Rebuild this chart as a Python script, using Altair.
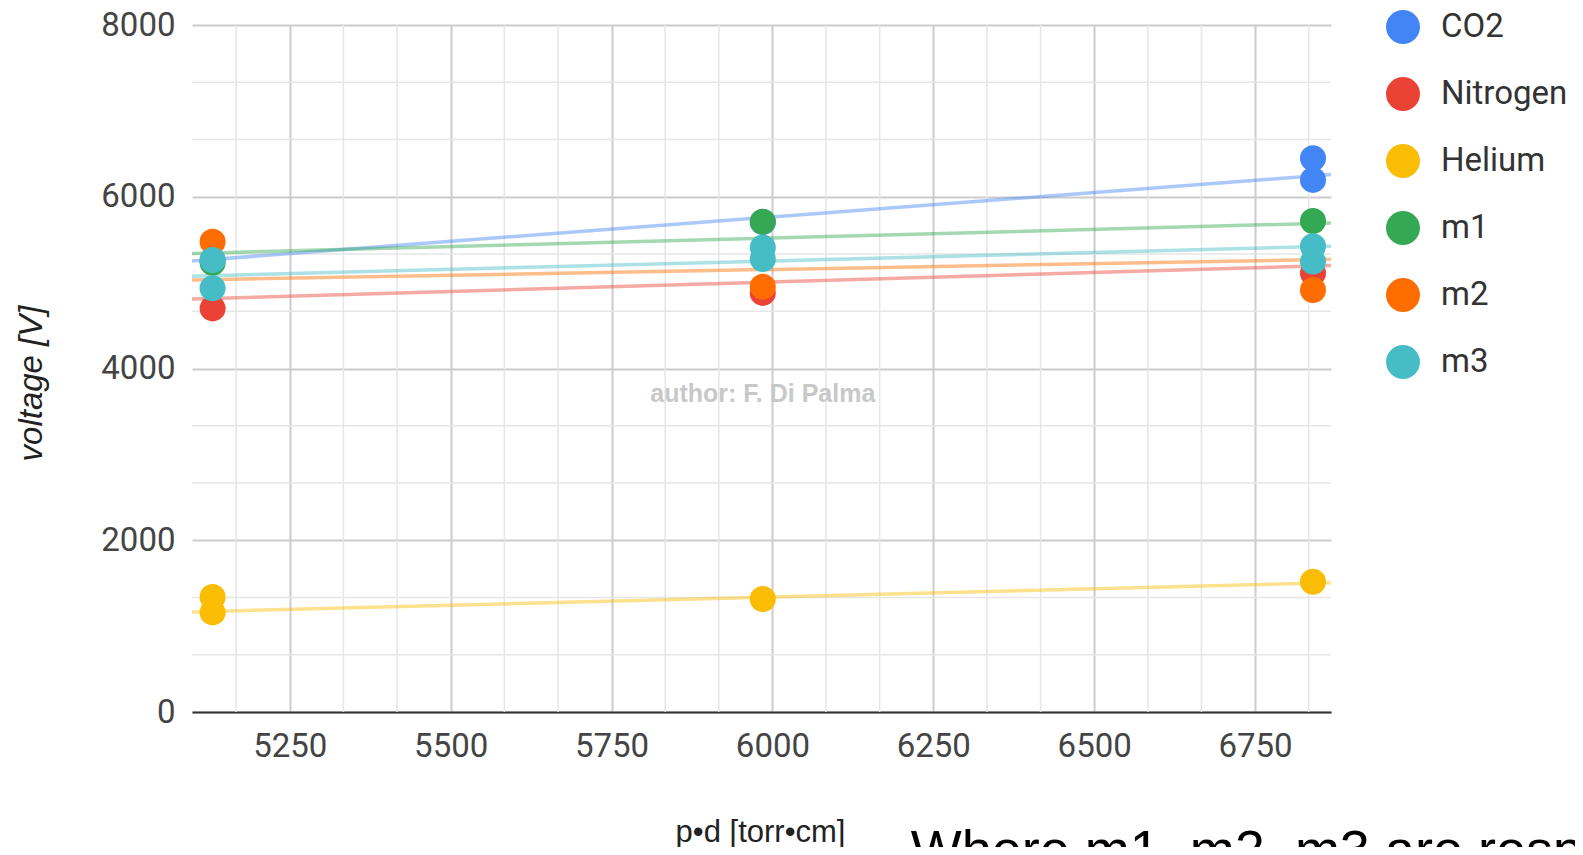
import altair as alt
import pandas as pd

# ---------------- data ----------------
series = ["CO2", "Nitrogen", "Helium", "m1", "m2", "m3"]
colors = ["#4285F4", "#EA4335", "#FBBC04", "#34A853", "#FF6D01", "#46BDC6"]

co2_x = [5130, 5985, 6840, 6840]
co2_v = [5260, 5705, 6449, 6196]
n2_x = [5130, 5985, 6840]
n2_v = [4700, 4880, 5109]
he_x = [5130, 5130, 5985, 6840]
he_v = [1340, 1160, 1316, 1516]
m1_x = [5130, 5985, 6840]
m1_v = [5230, 5710, 5718]
m2_x = [5130, 5985, 6840]
m2_v = [5477, 4953, 4914]
m3_x = [5130, 5130, 5985, 5985, 6840, 6840]
m3_v = [5264, 4934, 5410, 5275, 5424, 5245]

# trendline values read at the left and right edges of the plot
trend_x = [5098, 6868]
trend_start = [5252, 4809, 1165, 5340, 5031, 5075]
trend_end = [6259, 5200, 1506, 5694, 5271, 5424]

# axis ticks / gridlines
x_domain = [5098, 6868]
y_domain = [0, 8000]
x_major = [5250, 5500, 5750, 6000, 6250, 6500, 6750]
x_minor = [5166.67, 5333.33, 5416.67, 5583.33, 5666.67, 5833.33, 5916.67,
           6083.33, 6166.67, 6333.33, 6416.67, 6583.33, 6666.67, 6833.33]
y_major = [0, 2000, 4000, 6000, 8000]
y_minor = [666.67, 1333.33, 2666.67, 3333.33, 4666.67, 5333.33, 6666.67, 7333.33]

# annotations (data coordinates)
watermark_text = ["author: F. Di Palma"]
watermark_x = [5985]
watermark_v = [3613]
note_text = ["Where m1, m2, m3 are respectively"]
note_x = [6215]
note_v = [-1816]

# ---------------- tables ----------------
pts_rows = []
for name, xs_, vs_ in zip(series, [co2_x, n2_x, he_x, m1_x, m2_x, m3_x],
                          [co2_v, n2_v, he_v, m1_v, m2_v, m3_v]):
    for a, b in zip(xs_, vs_):
        pts_rows.append({"series": name, "x": a, "v": b})
pts = pd.DataFrame(pts_rows)

trend_rows = []
for name, col, s, e in zip(series, colors, trend_start, trend_end):
    trend_rows.append({"series": name, "col": col, "x": trend_x[0], "v": s})
    trend_rows.append({"series": name, "col": col, "x": trend_x[1], "v": e})
trend = pd.DataFrame(trend_rows)

xminor_df = pd.DataFrame({"x": x_minor})
yminor_df = pd.DataFrame({"v": y_minor})
wm_df = pd.DataFrame({"x": watermark_x, "v": watermark_v, "t": watermark_text})
note_df = pd.DataFrame({"x": note_x, "v": note_v, "t": note_text})

# ---------------- encodings ----------------
xs = alt.Scale(domain=x_domain, nice=False, zero=False)
ys = alt.Scale(domain=y_domain, nice=False, zero=False)

x_axis = alt.Axis(
    values=x_major, format="d", grid=True, gridColor="#cccccc", gridWidth=2,
    domain=True, domainColor="#333333", domainWidth=2,
    ticks=False, tickSize=0,
    labelFont="Roboto", labelFontSize=33, labelColor="#444444",
    labelBaseline="middle", labelPadding=34, labelFlush=False,
    title="p•d [torr•cm]", titleFont="Liberation Sans", titleFontSize=31,
    titleFontWeight="normal", titleColor="#222222",
    titleX=568, titleY=120, titleAlign="center", titleBaseline="middle",
)
y_axis = alt.Axis(
    values=y_major, format="d", grid=True, gridColor="#cccccc", gridWidth=2,
    domain=False, ticks=False, tickSize=0,
    labelFont="Roboto", labelFontSize=33, labelColor="#444444",
    labelBaseline="middle", labelPadding=17,
    title="voltage [V]", titleFont="Liberation Sans", titleFontSize=33,
    titleFontWeight="normal", titleFontStyle="italic", titleColor="#222222",
    titleAngle=270, titleX=-161, titleY=358, titleAlign="center",
    titleBaseline="middle",
)

X = alt.X("x:Q", scale=xs, axis=x_axis)
Y = alt.Y("v:Q", scale=ys, axis=y_axis)

color_scale = alt.Scale(domain=series, range=colors)
legend = alt.Legend(
    orient="none", legendX=1194, legendY=-15, title=None,
    symbolType="circle", symbolSize=1156, symbolStrokeWidth=0,
    symbolOpacity=1,
    labelFont="Roboto", labelFontSize=33, labelColor="#333333",
    labelOffset=21, rowPadding=33, padding=0,
)

minor_x = alt.Chart(xminor_df).mark_rule(color="#e6e6e6", strokeWidth=1.5).encode(x=X)
minor_y = alt.Chart(yminor_df).mark_rule(color="#e6e6e6", strokeWidth=1.5).encode(y=Y)

lines = alt.Chart(trend).mark_line(strokeWidth=3.5, opacity=0.45).encode(
    x=X, y=Y,
    stroke=alt.Stroke("col:N", scale=None),
    detail="series:N",
)

points = alt.Chart(pts).mark_circle(size=676, opacity=1).encode(
    x=X, y=Y,
    color=alt.Color("series:N", scale=color_scale, legend=legend, sort=series),
)

wm = alt.Chart(wm_df).mark_text(
    font="Liberation Sans", fontSize=25, fontWeight="bold", color="#c8c8c8",
    align="center", baseline="alphabetic",
).encode(x=X, y=Y, text="t:N")

note = alt.Chart(note_df).mark_text(
    font="Liberation Sans", fontSize=54, color="#000000",
    align="left", baseline="alphabetic",
).encode(x=X, y=Y, text="t:N")

chart = alt.layer(minor_x, minor_y, lines, points, wm, note).properties(
    width=1139, height=687,
    padding={"left": 184, "top": 17, "right": 244, "bottom": 135},
    autosize=alt.AutoSizeParams(type="none"),
    background="white",
).configure_view(stroke=None)

chart.save("out.html", embed_options={"renderer": "svg", "actions": False})
